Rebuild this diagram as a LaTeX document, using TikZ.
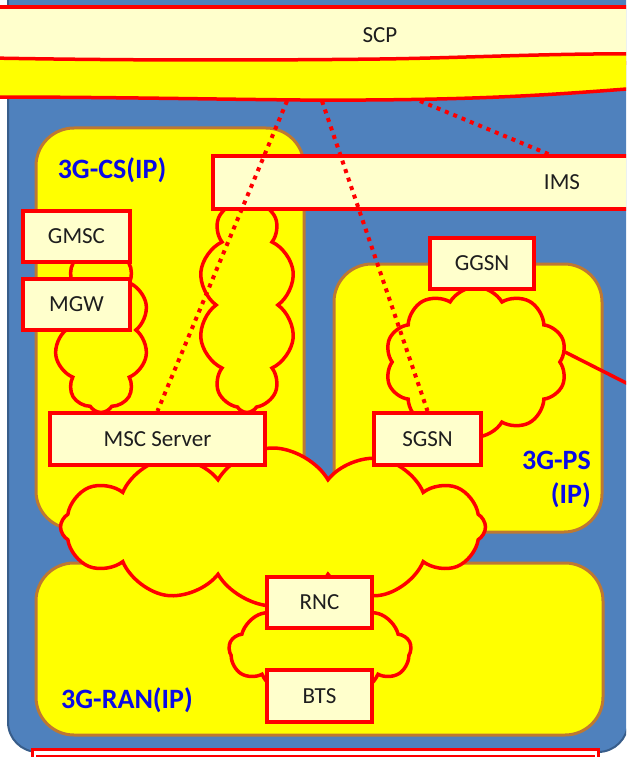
\documentclass[tikz,border=0pt]{standalone}
\usepackage{fontspec}
\setmainfont{Carlito}
\usetikzlibrary{shapes.symbols}
\definecolor{bgblue}{RGB}{79,129,189}
\definecolor{bgedge}{RGB}{56,93,138}
\definecolor{cream}{RGB}{255,255,204}
\definecolor{ylw}{RGB}{255,255,0}
\definecolor{brn}{RGB}{190,120,50}
\definecolor{lblue}{RGB}{10,10,230}
\definecolor{txt}{RGB}{30,30,30}
\tikzset{
  nbox/.style={draw=red, fill=cream, line width=4pt, text=txt, inner sep=0pt,
    font=\fontsize{23}{23}\selectfont},
  grp/.style={draw=brn, fill=ylw, line width=3pt, rounded corners=38pt},
  cloudy/.style={cloud, cloud puffs=10, cloud puff arc=120, cloud ignores aspect, draw=red, fill=ylw,
    line width=3.5pt, inner sep=0pt},
  dotline/.style={draw=red, line width=4pt, dash pattern=on 4pt off 5pt},
  link/.style={draw=red, line width=3.5pt},
  grplabel/.style={text=lblue, font=\bfseries\fontsize{28}{34}\selectfont, inner sep=0pt}
}
\begin{document}
\begin{tikzpicture}[x=1pt,y=-1pt]
\useasboundingbox (0,0) rectangle (626,757);
\clip (0,0) rectangle (626,757);
\fill[white] (0,0) rectangle (626,757);
% outer blue area
\draw[fill=bgblue, draw=bgedge, line width=2pt, rounded corners=30pt] (8,-60) rectangle (628,752);
% SCP box and band
\node[nbox, minimum width=800pt, minimum height=56pt] (scp) at (380,35) {SCP};
\path[draw=red, fill=ylw, line width=3.5pt]
  (-10,58) .. controls (150,61) and (300,60) .. (380,59)
  .. controls (460,58) and (560,53) .. (640,54)
  -- (640,88) .. controls (560,94) and (480,101) .. (300,100)
  .. controls (200,99) and (100,97) .. (-10,97) -- cycle;
\coordinate (b1) at (287,101);
\coordinate (b2) at (322,101);
\coordinate (b3) at (420,101);
% group boxes
\draw[grp] (36,128) rectangle (304,529);
\draw[grp] (334,264) rectangle (602,532);
% clouds in CS
\node[cloudy, minimum width=95pt, minimum height=165pt] (ccl) at (101,330) {};
\node[cloudy, minimum width=97pt, minimum height=215pt] (ccr) at (247,305) {};
% GGSN cloud
\node[cloudy, minimum width=182pt, minimum height=150pt] (cg) at (476,362) {};
% RAN box
\draw[grp] (36,563) rectangle (603,735);
% central cloud
\node[cloudy, cloud puffs=12, minimum width=425pt, minimum height=158pt] (cc) at (273,527) {};
% RAN cloud
\node[cloudy, cloud puffs=9, minimum width=182pt, minimum height=95pt] (cr) at (320,650) {};
% IMS
\node[nbox, minimum width=698pt, minimum height=53pt] (ims) at (562,182) {IMS};
\coordinate (i3) at (553,156);
% element boxes
\node[nbox, minimum width=107pt, minimum height=51pt] (gmsc) at (76.5,236.5) {GMSC};
\node[nbox, minimum width=107pt, minimum height=51pt] (mgw) at (76.5,304.5) {MGW};
\node[nbox, minimum width=215pt, minimum height=52pt] (msc) at (157.5,439) {MSC Server};
\node[nbox, minimum width=107pt, minimum height=52pt] (sgsn) at (427.5,439) {SGSN};
\node[nbox, minimum width=104pt, minimum height=51pt] (ggsn) at (482,263.5) {GGSN};
\node[nbox, minimum width=105pt, minimum height=51pt] (rnc) at (319.5,602.5) {RNC};
\node[nbox, minimum width=105pt, minimum height=52pt] (bts) at (319.5,696) {BTS};
% group labels
\node[grplabel] (lcs) at (112,170) {3G-CS(IP)};
\node[grplabel, align=right, anchor=east] (lps) at (591,479) {3G-PS\\(IP)};
\node[grplabel] (lran) at (127,700) {3G-RAN(IP)};
% bottom partial box
\node[draw=red, fill=white, line width=2.5pt, minimum width=566pt, minimum height=60pt, anchor=north west] (bot) at (31,748) {};
\node[draw=red, line width=2.5pt, minimum width=556pt, minimum height=60pt, anchor=north west] (boti) at (36,755) {};
% connectors
\draw[dotline] (b1) -- (msc.north);
\draw[dotline] (b2) -- (sgsn.north);
\draw[dotline] (b3) -- (i3);
\coordinate (ext) at (640,390);
\draw[link] (565,352) -- (ext);
\end{tikzpicture}
\end{document}
